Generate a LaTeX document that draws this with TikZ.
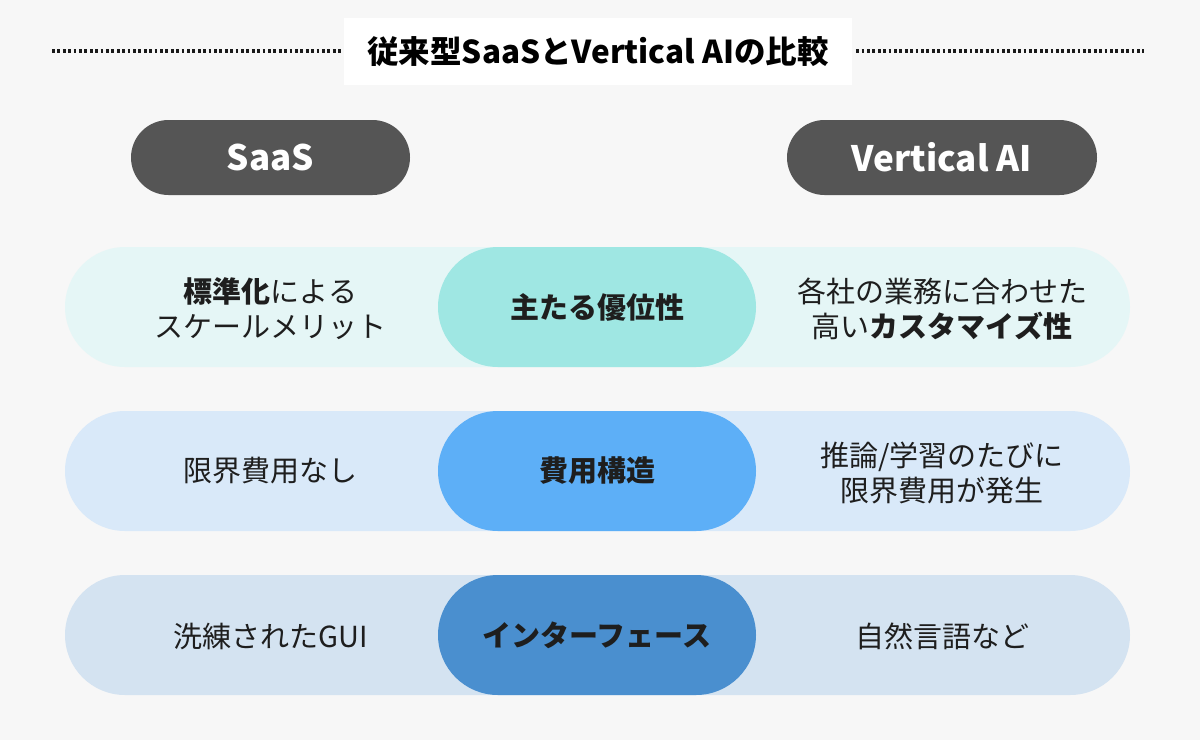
\documentclass[tikz,border=0pt]{standalone}
\usepackage{fontspec}
\setmainfont{Noto Sans CJK JP}
\definecolor{bgcol}{HTML}{F7F7F7}
\definecolor{headcol}{HTML}{555555}
\definecolor{bandA}{HTML}{E5F6F6}
\definecolor{pillA}{HTML}{9FE7E3}
\definecolor{bandB}{HTML}{D9E9F9}
\definecolor{pillB}{HTML}{5DAFF7}
\definecolor{bandC}{HTML}{D4E3F1}
\definecolor{pillC}{HTML}{4A8FCF}
\definecolor{inkcol}{HTML}{1E1E1E}
\tikzset{
  band/.style={fill=#1, inner sep=0pt, minimum width=1065pt, minimum height=120pt, rounded corners=60pt},
  pill/.style={fill=#1, inner sep=0pt, minimum width=318pt, minimum height=120pt, rounded corners=60pt,
    text=inkcol, font=\bfseries\fontsize{29}{35}\selectfont},
  head/.style={fill=headcol, text=white, inner sep=0pt, minimum height=75pt, rounded corners=37.5pt,
    font=\bfseries\fontsize{35}{40}\selectfont},
  side/.style={text=inkcol, align=center, inner sep=0pt, font=\fontsize{29}{35}\selectfont},
  dotline/.style={line width=3.2pt, dash pattern=on 2.8pt off 2.6pt, black!90}
}
\begin{document}
\begin{tikzpicture}[x=1pt,y=-1pt]
\useasboundingbox (0,0) rectangle (1200,740);
\fill[bgcol] (0,0) rectangle (1200,740);

% title
\node[fill=white, inner sep=0pt, minimum width=508pt, minimum height=67pt, text=black,
  font=\bfseries\fontsize{31.5}{36}\selectfont] (title) at (598,51.5) {従来型SaaSとVertical AIの比較};
\coordinate (dotL) at (52,51);
\coordinate (dotR) at (1144,51);
\draw[dotline] (dotL) -- ([xshift=-3pt]title.west |- dotL);
\draw[dotline] ([xshift=4pt]title.east |- dotR) -- (dotR);

% column heads
\node[head, minimum width=279pt] (saas) at (270.5,157.5) {SaaS};
\node[head, minimum width=310pt] (vai) at (942,157.5) {Vertical AI};

% row 1
\node[band=bandA] (bandA) at (597.5,307) {};
\node[pill=pillA] (adv) at (597,307) {主たる優位性};
\node[side] (advL) at (270.5,309) {{\bfseries 標準化}による\\スケールメリット};
\node[side] (advR) at (942,309) {各社の業務に合わせた\\高い{\bfseries カスタマイズ性}};

% row 2
\node[band=bandB] (bandB) at (597.5,471) {};
\node[pill=pillB] (cost) at (597,471) {費用構造};
\node[side] (costL) at (270.5,471) {限界費用なし};
\node[side] (costR) at (942,473) {推論/学習のたびに\\限界費用が発生};

% row 3
\node[band=bandC] (bandC) at (597.5,635) {};
\node[pill=pillC] (ui) at (597,635) {インターフェース};
\node[side] (uiL) at (270.5,636) {洗練されたGUI};
\node[side] (uiR) at (942,636) {自然言語など};

\end{tikzpicture}
\end{document}
